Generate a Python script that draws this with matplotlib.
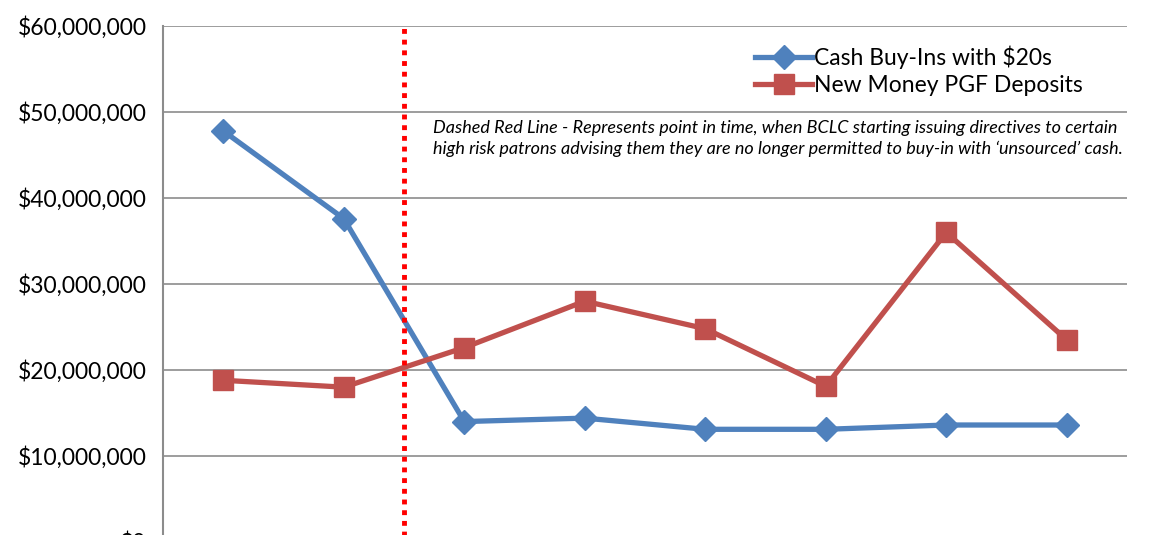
import matplotlib.pyplot as plt
from matplotlib.ticker import FuncFormatter

plt.rcParams['font.family'] = ['Lato', 'DejaVu Sans']

# Monthly totals (8 periods)
periods = ["P1", "P2", "P3", "P4", "P5", "P6", "P7", "P8"]
cash_buyins = [47.8e6, 37.6e6, 14.0e6, 14.4e6, 13.1e6, 13.1e6, 13.6e6, 13.6e6]
pgf_deposits = [18.8e6, 18.0e6, 22.6e6, 28.0e6, 24.8e6, 18.1e6, 36.0e6, 23.5e6]
directive_pos = 1.5
note = ("Dashed Red Line - Represents point in time, when BCLC starting issuing directives to certain\n"
        "high risk patrons advising them they are no longer permitted to buy-in with \u2018unsourced\u2019 cash.")

fig = plt.figure(figsize=(11.63, 5.35), dpi=100)
ax = fig.add_axes([163 / 1163, -0.013, 964 / 1163, 0.9514 + 0.013])

x = range(len(periods))
ax.plot(x, cash_buyins, color='#4F81BD', lw=3.8, marker='D', ms=12,
        label="Cash Buy-Ins with $20s", zorder=3)
ax.plot(x, pgf_deposits, color='#C0504D', lw=3.8, marker='s', ms=14,
        label="New Money PGF Deposits", zorder=3)
ax.axvline(directive_pos, color='#FF0000', lw=3.5, ls=(0, (1, 1.2)), zorder=4)

ax.set_xlim(-0.5, len(periods) - 0.5)
ax.set_ylim(0, 60e6)
ax.set_yticks(range(0, 60000001, 10000000))
ax.yaxis.set_major_formatter(FuncFormatter(lambda v, p: f"${v:,.0f}"))
ax.set_xticks([])
ax.tick_params(axis='y', length=0, labelsize=16.5, pad=12)
ax.grid(True, axis='y', color='#8C8C8C', lw=1.2)
for s in ['top', 'right', 'bottom']:
    ax.spines[s].set_visible(False)
ax.spines['left'].set_color('#8C8C8C')
ax.spines['left'].set_linewidth(1.5)
ax.set_axisbelow(True)

ax.legend(loc='upper right', bbox_to_anchor=(0.975, 1.003), frameon=False,
          fontsize=16.5, handlelength=2.5, handletextpad=0.05, labelspacing=0.3)
ax.text(0.28, 0.818, note, transform=ax.transAxes, fontsize=13, style='italic',
        va='top', ha='left', linespacing=1.35)

fig.savefig("out.png", dpi=100)
